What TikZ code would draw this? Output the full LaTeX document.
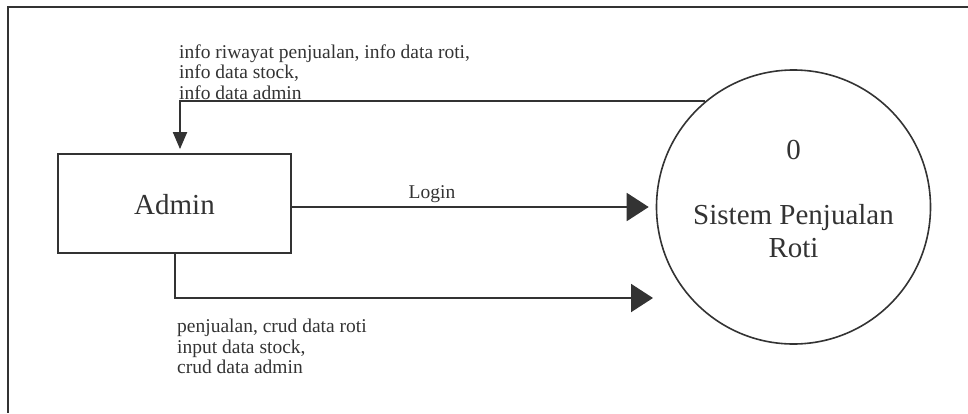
\documentclass[tikz,border=0pt]{standalone}
\usepackage{fontspec}
\setmainfont{Liberation Serif}
\usetikzlibrary{arrows.meta}
\definecolor{ink}{HTML}{333333}
\tikzset{
  flow/.style={draw=ink, line width=2pt},
  bigtip/.style={-{Triangle[length=22pt,width=28pt]}},
  smalltip/.style={-{Triangle[length=17pt,width=14pt]}},
  lbl/.style={text=ink, inner sep=0pt, font=\fontsize{19.5}{20.5}\selectfont},
  bigtxt/.style={text=ink, inner sep=0pt, font=\fontsize{29}{33}\selectfont},
}
\begin{document}
\begin{tikzpicture}[x=1pt,y=-1pt]
\useasboundingbox (0,0) rectangle (968,413);
% frame
\draw[ink, line width=2.2pt] (968,7) -- (8,7) -- (8,413);
% entities
\node[draw=ink, line width=1.8pt, minimum width=233pt, minimum height=99pt, inner sep=0pt] (admin) at (174.5,203.5) {};
\node[bigtxt, anchor=base] (admintxt) at (174.5,214) {Admin};
\node[circle, draw=ink, line width=1.6pt, minimum size=274pt, inner sep=0pt] (sys) at (793.5,207) {};
\node[bigtxt, anchor=base] (zero) at (793.5,159) {0};
\node[bigtxt, anchor=base, align=center] (systxt) at (793.5,257) {Sistem Penjualan\\Roti};
% connectors
\coordinate (bend) at (653,298);
\draw[flow, smalltip, shorten >=4pt] (sys.130) -| ([xshift=5.5pt]admin.north);
\draw[flow, bigtip, shorten >=7pt] (admin.east |- sys.west) -- (sys.west);
\draw[flow, bigtip] (admin.south) |- (bend);
% labels
\node[lbl, anchor=base west, align=left] (toplbl) at (179,99) {info riwayat penjualan, info data roti,\\info data stock,\\info data admin};
\node[lbl, anchor=base] (loginlbl) at (432,198) {Login};
\node[lbl, anchor=base west, align=left] (botlbl) at (177,373.5) {penjualan, crud data roti\\input data stock,\\crud data admin};
\end{tikzpicture}
\end{document}
